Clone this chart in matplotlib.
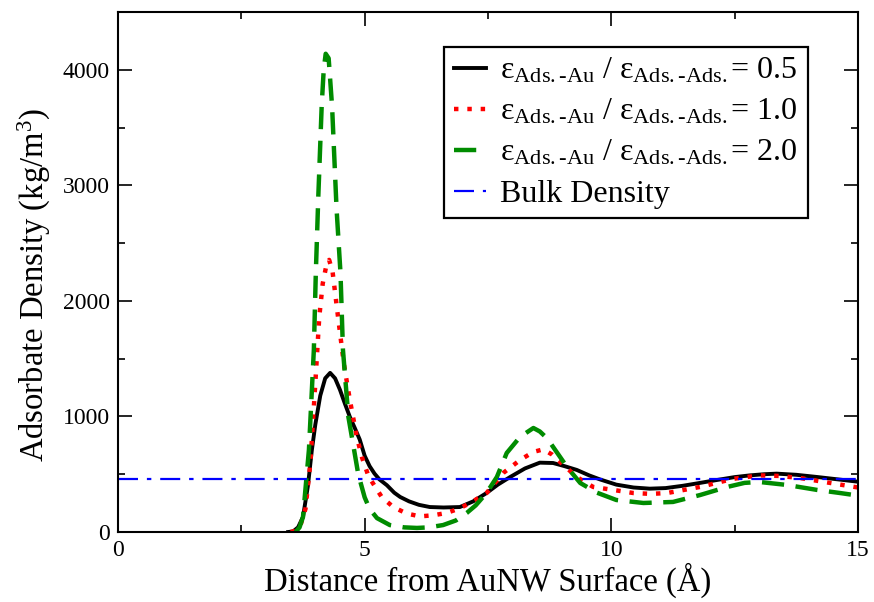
import matplotlib
matplotlib.use("Agg")
import matplotlib.pyplot as plt
from matplotlib.ticker import MultipleLocator

plt.rcParams['font.family'] = ['Liberation Serif', 'DejaVu Serif']
plt.rcParams['mathtext.fontset'] = 'custom'
plt.rcParams['mathtext.rm'] = 'Liberation Serif'
plt.rcParams['mathtext.it'] = 'Liberation Serif:italic'
plt.rcParams['mathtext.bf'] = 'Liberation Serif:bold'

# ratio 0.5 (black)
x_05 = [3.45, 3.55, 3.65, 3.75, 3.85, 3.93, 4.0, 4.1, 4.2, 4.3, 4.4, 4.5, 4.6, 4.7, 4.8, 4.9,
        5.0, 5.1, 5.2, 5.3, 5.45, 5.6, 5.72, 5.9, 6.1, 6.32, 6.6, 6.93, 7.2, 7.47, 7.7, 7.95,
        8.25, 8.55, 8.82, 9.05, 9.3, 9.55, 9.77, 10.1, 10.45, 10.78, 11.1, 11.45, 11.8, 12.14,
        12.5, 12.81, 13.1, 13.35, 13.75, 14.17, 14.6, 15.0]
y_05 = [0, 5, 40, 130, 400, 710, 930, 1180, 1330, 1377, 1330, 1230, 1110, 996, 900, 800,
        660, 570, 505, 455, 405, 340, 303, 265, 235, 216, 212, 216, 265, 337, 410, 476,
        550, 600, 597, 570, 537, 490, 455, 410, 385, 375, 380, 400, 425, 450,
        475, 490, 500, 505, 495, 476, 455, 435]

# ratio 1.0 (red)
x_10 = [3.5, 3.6, 3.7, 3.8, 3.9, 4.0, 4.08, 4.15, 4.22, 4.28, 4.35, 4.46, 4.58, 4.7, 4.84,
        4.95, 5.08, 5.2, 5.35, 5.58, 5.85, 6.12, 6.4, 6.66, 6.9, 7.14, 7.47, 7.81, 8.15, 8.42,
        8.62, 8.8, 8.96, 9.3, 9.63, 10.1, 10.45, 10.8, 11.13, 11.8, 12.47, 13.0, 13.4, 13.83,
        14.5, 15.0]
y_10 = [0, 10, 60, 200, 600, 1290, 1862, 2150, 2300, 2355, 2250, 1862, 1450, 1143, 823,
        640, 480, 400, 300, 216, 160, 135, 145, 165, 200, 251, 337, 511, 623, 693,
        715, 670, 606, 476, 390, 360, 337, 330, 337, 390, 460, 490, 485, 467,
        420, 385]

# ratio 2.0 (green)
x_20 = [3.6, 3.68, 3.75, 3.87, 3.97, 4.01, 4.06, 4.13, 4.17, 4.21, 4.27, 4.34, 4.43, 4.48,
        4.51, 4.56, 4.67, 4.77, 4.87, 5.0, 5.1, 5.25, 5.51, 5.8, 6.06, 6.3, 6.59, 6.85, 7.07,
        7.25, 7.4, 7.55, 7.68, 7.88, 8.15, 8.42, 8.55, 8.7, 8.82, 8.96, 9.1, 9.37, 9.71, 10.1,
        10.65, 11.25, 11.8, 12.35, 12.7, 13.0, 13.56, 14.17, 14.64, 15.0]
y_20 = [0, 40, 130, 710, 1576, 2242, 2900, 3700, 4000, 4139, 4100, 3680, 2800, 2450,
        2242, 1576, 996, 750, 500, 300, 200, 120, 60, 40, 35, 40, 60, 100, 165,
        230, 303, 390, 476, 684, 823, 900, 870, 810, 736, 650, 563, 424, 340, 277,
        251, 260, 320, 390, 425, 433, 407, 364, 337, 315]

bulk_x = [0, 15]
bulk_y = [455, 455]

labels = [r'ε$_{\mathrm{Ads.}\text{-}\mathrm{Au}}$ / ε$_{\mathrm{Ads.}\text{-}\mathrm{Ads.}}$= 0.5',
          r'ε$_{\mathrm{Ads.}\text{-}\mathrm{Au}}$ / ε$_{\mathrm{Ads.}\text{-}\mathrm{Ads.}}$= 1.0',
          r'ε$_{\mathrm{Ads.}\text{-}\mathrm{Au}}$ / ε$_{\mathrm{Ads.}\text{-}\mathrm{Ads.}}$= 2.0',
          'Bulk Density']

fig = plt.figure(figsize=(8.74, 6.02), dpi=100)
ax = fig.add_axes([0.135, 0.1163, 0.8467, 0.8637])

ax.plot(x_05, y_05, color='black', lw=2.8, label=labels[0])
ax.plot(x_10, y_10, color='#ff0000', lw=3.2, linestyle=(0, (1, 2.0)), dash_capstyle='butt',
        label=labels[1])
ax.plot(x_20, y_20, color='#008c00', lw=3.2, linestyle=(0, (5.0, 2.6)), label=labels[2])
ax.plot(bulk_x, bulk_y, color='#0000ff', lw=1.6, linestyle=(0, (9, 4, 2, 4)), label=labels[3])

ax.set_xlim(0, 15)
ax.set_ylim(0, 4500)
ax.xaxis.set_major_locator(MultipleLocator(5))
ax.xaxis.set_minor_locator(MultipleLocator(2.5))
ax.yaxis.set_major_locator(MultipleLocator(1000))
ax.yaxis.set_minor_locator(MultipleLocator(500))
ax.tick_params(which='both', direction='in', top=True, right=True, width=1.2, labelsize=17)
ax.tick_params(which='major', length=10, pad=6)
ax.tick_params(which='minor', length=5)
for s in ax.spines.values():
    s.set_linewidth(1.5)

ax.set_xlabel('Distance from AuNW Surface (Å)', fontsize=23.5, labelpad=1)
ax.set_ylabel(r'Adsorbate Density (kg/m$^3$)', fontsize=23.5)
ax.yaxis.set_label_coords(-0.088, 0.475)

leg = ax.legend(loc='upper right', bbox_to_anchor=(0.932, 0.933), fontsize=23,
                frameon=True, fancybox=False, framealpha=1, edgecolor='black',
                handlelength=1.0, handletextpad=0.45, borderpad=0.3, labelspacing=0.36,
                borderaxespad=0)
leg.get_frame().set_linewidth(1.6)

fig.savefig('out.png', dpi=100)
